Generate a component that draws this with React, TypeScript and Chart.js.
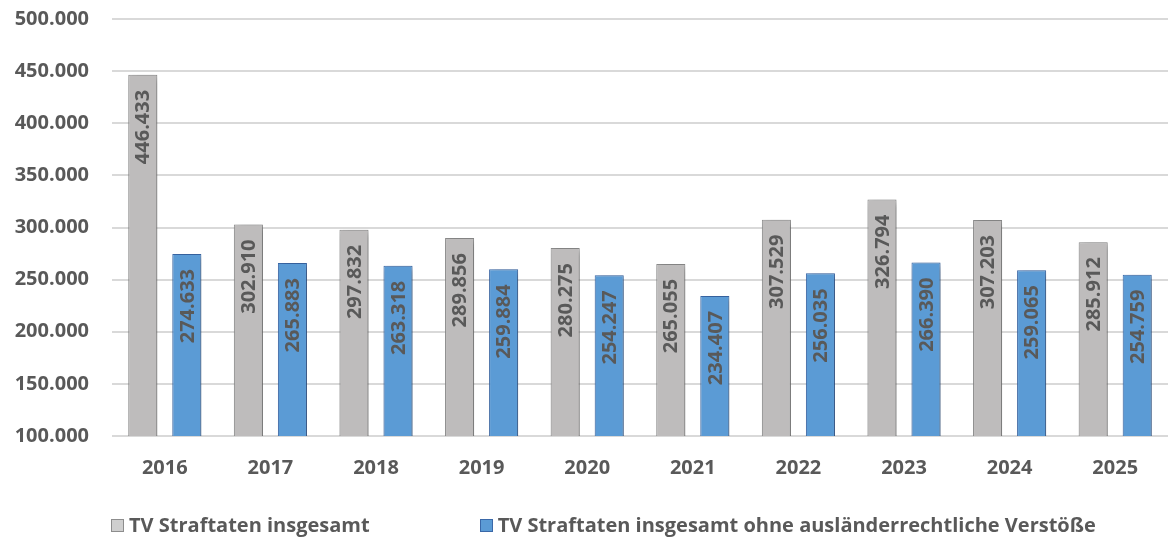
import React, { useEffect, useRef } from "react";
import { Chart, registerables } from "chart.js";

Chart.register(...registerables);

const years = ["2016", "2017", "2018", "2019", "2020", "2021", "2022", "2023", "2024", "2025"];
const totalValues = [446433, 302910, 297832, 289856, 280275, 265055, 307529, 326794, 307203, 285912];
const withoutForeignValues = [274633, 265883, 263318, 259884, 254247, 234407, 256035, 266390, 259065, 254759];
const seriesNames = [
  "TV Straftaten insgesamt",
  "TV Straftaten insgesamt ohne ausländerrechtliche Verstöße",
];

const FONT = "'Open Sans', 'DejaVu Sans', sans-serif";
const TEXT = "#595959";
const GRAY = "#bebcbc";
const GRAY_BORDER = "#8d8d8d";
const BLUE = "#5b9bd5";
const BLUE_BORDER = "#3a68a8";

const fmt = (v: number) =>
  Math.round(v).toString().replace(/\B(?=(\d{3})+(?!\d))/g, ".");

const shadowPlugin = {
  id: "barShadow",
  beforeDatasetsDraw(chart: any) {
    const ctx = chart.ctx;
    ctx.save();
    ctx.shadowColor = "rgba(0,0,0,0.35)";
    ctx.shadowBlur = 7;
    ctx.shadowOffsetX = 3;
    ctx.shadowOffsetY = 2;
  },
  afterDatasetsDraw(chart: any) {
    chart.ctx.restore();
  },
};

const labelPlugin = {
  id: "barLabels",
  afterDraw(chart: any) {
    const ctx = chart.ctx;
    ctx.save();
    ctx.font = `bold 20px ${FONT}`;
    ctx.fillStyle = TEXT;
    ctx.textAlign = "right";
    ctx.textBaseline = "middle";
    chart.data.datasets.forEach((ds: any, di: number) => {
      const meta = chart.getDatasetMeta(di);
      meta.data.forEach((bar: any, i: number) => {
        ctx.save();
        ctx.translate(bar.x, bar.y + 15);
        ctx.rotate(-Math.PI / 2);
        ctx.fillText(fmt(ds.data[i]), 0, 1);
        ctx.restore();
      });
    });
    ctx.restore();
  },
};

export default function App() {
  const ref = useRef<HTMLCanvasElement | null>(null);

  useEffect(() => {
    document.body.style.margin = "0";
    const chart = new Chart(ref.current as HTMLCanvasElement, {
      type: "bar",
      data: {
        labels: years,
        datasets: [
          {
            label: seriesNames[0],
            data: totalValues,
            backgroundColor: GRAY,
            borderColor: GRAY_BORDER,
            borderWidth: 1,
            categoryPercentage: 0.834,
            barPercentage: 0.66,
          },
          {
            label: seriesNames[1],
            data: withoutForeignValues,
            backgroundColor: BLUE,
            borderColor: BLUE_BORDER,
            borderWidth: 1,
            categoryPercentage: 0.834,
            barPercentage: 0.66,
          },
        ],
      },
      options: {
        animation: false,
        responsive: false,
        maintainAspectRatio: false,
        layout: { padding: { top: 19, right: 0, bottom: 38, left: 0 } },
        plugins: {
          legend: { display: false },
          tooltip: { enabled: false },
        },
        scales: {
          x: {
            grid: { display: false, drawTicks: false },
            border: { display: false },
            ticks: {
              color: TEXT,
              font: { family: FONT, size: 20, weight: "bold" },
              padding: 20,
            },
          },
          y: {
            min: 100000,
            max: 500000,
            afterFit(scale: any) {
              scale.width = 112;
              scale.paddingTop = 0;
              scale.paddingBottom = 0;
            },
            grid: { color: "#d9d9d9", lineWidth: 2, drawTicks: false },
            border: { display: false },
            ticks: {
              stepSize: 50000,
              color: TEXT,
              font: { family: FONT, size: 20, weight: "bold" },
              padding: 23,
              callback: (v: any) => fmt(Number(v)),
            },
          },
        },
      },
      plugins: [shadowPlugin, labelPlugin],
    } as any);
    return () => chart.destroy();
  }, []);

  const legendItem = (name: string, color: string, border: string) => (
    <div style={{ display: "flex", alignItems: "center" }}>
      <span
        style={{
          display: "inline-block",
          width: 11,
          height: 11,
          background: color,
          border: `1px solid ${border}`,
          marginRight: 5,
        }}
      />
      <span>{name}</span>
    </div>
  );

  return (
    <div style={{ position: "relative", width: 1168, height: 538 }}>
      <canvas ref={ref} width={1168} height={538} style={{ display: "block" }} />
      <div
        style={{
          position: "absolute",
          left: 111,
          top: 512,
          display: "flex",
          gap: 110,
          fontFamily: FONT,
          fontWeight: "bold",
          fontSize: 20,
          color: TEXT,
          lineHeight: "26px",
        }}
      >
        {legendItem(seriesNames[0], "#cfcfcf", "#8d8d8d")}
        {legendItem(seriesNames[1], BLUE, BLUE_BORDER)}
      </div>
    </div>
  );
}
